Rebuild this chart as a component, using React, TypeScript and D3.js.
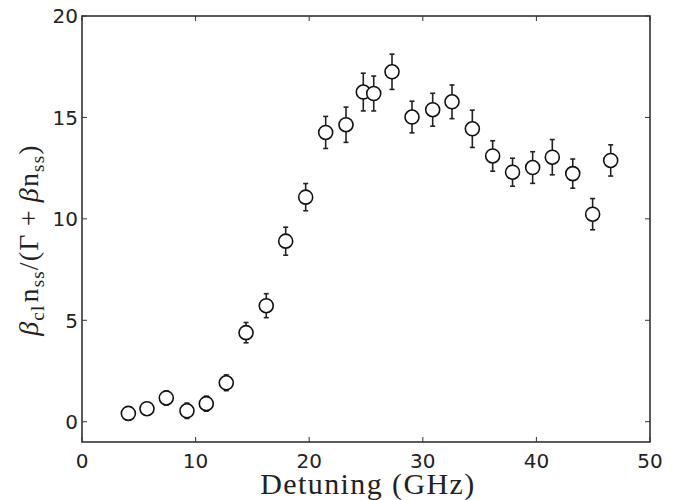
import * as React from "react";
import * as d3 from "d3";

const detuning = [4.08, 5.72, 7.42, 9.24, 10.94, 12.7, 14.44, 16.22, 17.93, 19.69, 21.45, 23.24, 24.76, 25.68, 27.29, 29.05, 30.87, 32.57, 34.36, 36.15, 37.9, 39.67, 41.4, 43.2, 44.95, 46.54];
const ratio = [0.41, 0.64, 1.17, 0.54, 0.89, 1.92, 4.39, 5.72, 8.9, 11.07, 14.26, 14.64, 16.25, 16.18, 17.25, 15.02, 15.38, 15.77, 14.44, 13.1, 12.3, 12.53, 13.04, 12.23, 10.23, 12.88];
const ratioErr = [0.2, 0.22, 0.35, 0.38, 0.37, 0.39, 0.5, 0.59, 0.69, 0.67, 0.79, 0.87, 0.93, 0.86, 0.87, 0.78, 0.81, 0.83, 0.92, 0.75, 0.69, 0.78, 0.87, 0.72, 0.77, 0.77];
const xTicks = [0, 10, 20, 30, 40, 50];
const yTicks = [0, 5, 10, 15, 20];

const App = () => {
  const width = 690;
  const height = 500;
  const margin = { top: 16, right: 40, bottom: 58, left: 82 };
  const innerW = width - margin.left - margin.right;
  const innerH = height - margin.top - margin.bottom;

  const x = d3.scaleLinear().domain([0, 50]).range([0, innerW]);
  const y = d3.scaleLinear().domain([-1, 20]).range([innerH, 0]);

  const axisColor = "#333";
  const tickLen = 5;
  const tickFont = "DejaVu Sans, sans-serif";
  const labelFont = "Liberation Serif, serif";

  const points = detuning.map((d, i) => ({ x: d, y: ratio[i], e: ratioErr[i] }));

  return (
    <svg
      width={width}
      height={height}
      viewBox={`0 0 ${width} ${height}`}
      style={{ position: "absolute", left: 0, top: 0, background: "#fff" }}
    >
      <g transform={`translate(${margin.left},${margin.top})`}>
        {/* ticks point inward on all four sides */}
        {xTicks.map((t) => (
          <g key={`xt${t}`}>
            <line x1={x(t)} x2={x(t)} y1={innerH} y2={innerH - tickLen} stroke={axisColor} strokeWidth={1} />
            <line x1={x(t)} x2={x(t)} y1={0} y2={tickLen} stroke={axisColor} strokeWidth={1} />
            <text x={x(t)} y={innerH + 25.5} textAnchor="middle" fontSize={20} fill="#222" fontFamily={tickFont}>
              {t}
            </text>
          </g>
        ))}
        {yTicks.map((t) => (
          <g key={`yt${t}`}>
            <line x1={0} x2={tickLen} y1={y(t)} y2={y(t)} stroke={axisColor} strokeWidth={1} />
            <line x1={innerW} x2={innerW - tickLen} y1={y(t)} y2={y(t)} stroke={axisColor} strokeWidth={1} />
            <text x={-4} y={y(t) + 7.3} textAnchor="end" fontSize={20} fill="#222" fontFamily={tickFont}>
              {t}
            </text>
          </g>
        ))}

        <rect x={0} y={0} width={innerW} height={innerH} fill="none" stroke={axisColor} strokeWidth={1.6} />

        {/* error bars */}
        {points.map((p, i) => (
          <g key={`e${i}`} stroke="#222" strokeWidth={1.6}>
            <line x1={x(p.x)} x2={x(p.x)} y1={y(p.y - p.e)} y2={y(p.y + p.e)} />
            <line x1={x(p.x) - 2.5} x2={x(p.x) + 2.5} y1={y(p.y - p.e)} y2={y(p.y - p.e)} />
            <line x1={x(p.x) - 2.5} x2={x(p.x) + 2.5} y1={y(p.y + p.e)} y2={y(p.y + p.e)} />
          </g>
        ))}
        {points.map((p, i) => (
          <circle key={`c${i}`} cx={x(p.x)} cy={y(p.y)} r={7} fill="#fff" stroke="#111" strokeWidth={1.6} />
        ))}

        <text
          x={innerW / 2 + 2}
          y={innerH + 52}
          textAnchor="middle"
          fontSize={30}
          letterSpacing={1.4}
          fill="#222"
          fontFamily={labelFont}
        >
          Detuning (GHz)
        </text>

        <text
          transform={`translate(${-44},${224}) rotate(-90)`}
          textAnchor="middle"
          fontSize={28}
          letterSpacing={1.2}
          fill="#222"
          fontFamily={labelFont}
        >
          <tspan fontStyle="italic">β</tspan>
          <tspan fontSize={19} dy={6}>cl</tspan>
          <tspan dy={-6} dx={2}>n</tspan>
          <tspan fontSize={19} dy={6}>ss</tspan>
          <tspan dy={-6}>/(Γ</tspan>
          <tspan dx={7}>+</tspan>
          <tspan dx={7} fontStyle="italic">β</tspan>
          <tspan>n</tspan>
          <tspan fontSize={19} dy={6}>ss</tspan>
          <tspan dy={-6}>)</tspan>
        </text>
      </g>
    </svg>
  );
};

export default App;
